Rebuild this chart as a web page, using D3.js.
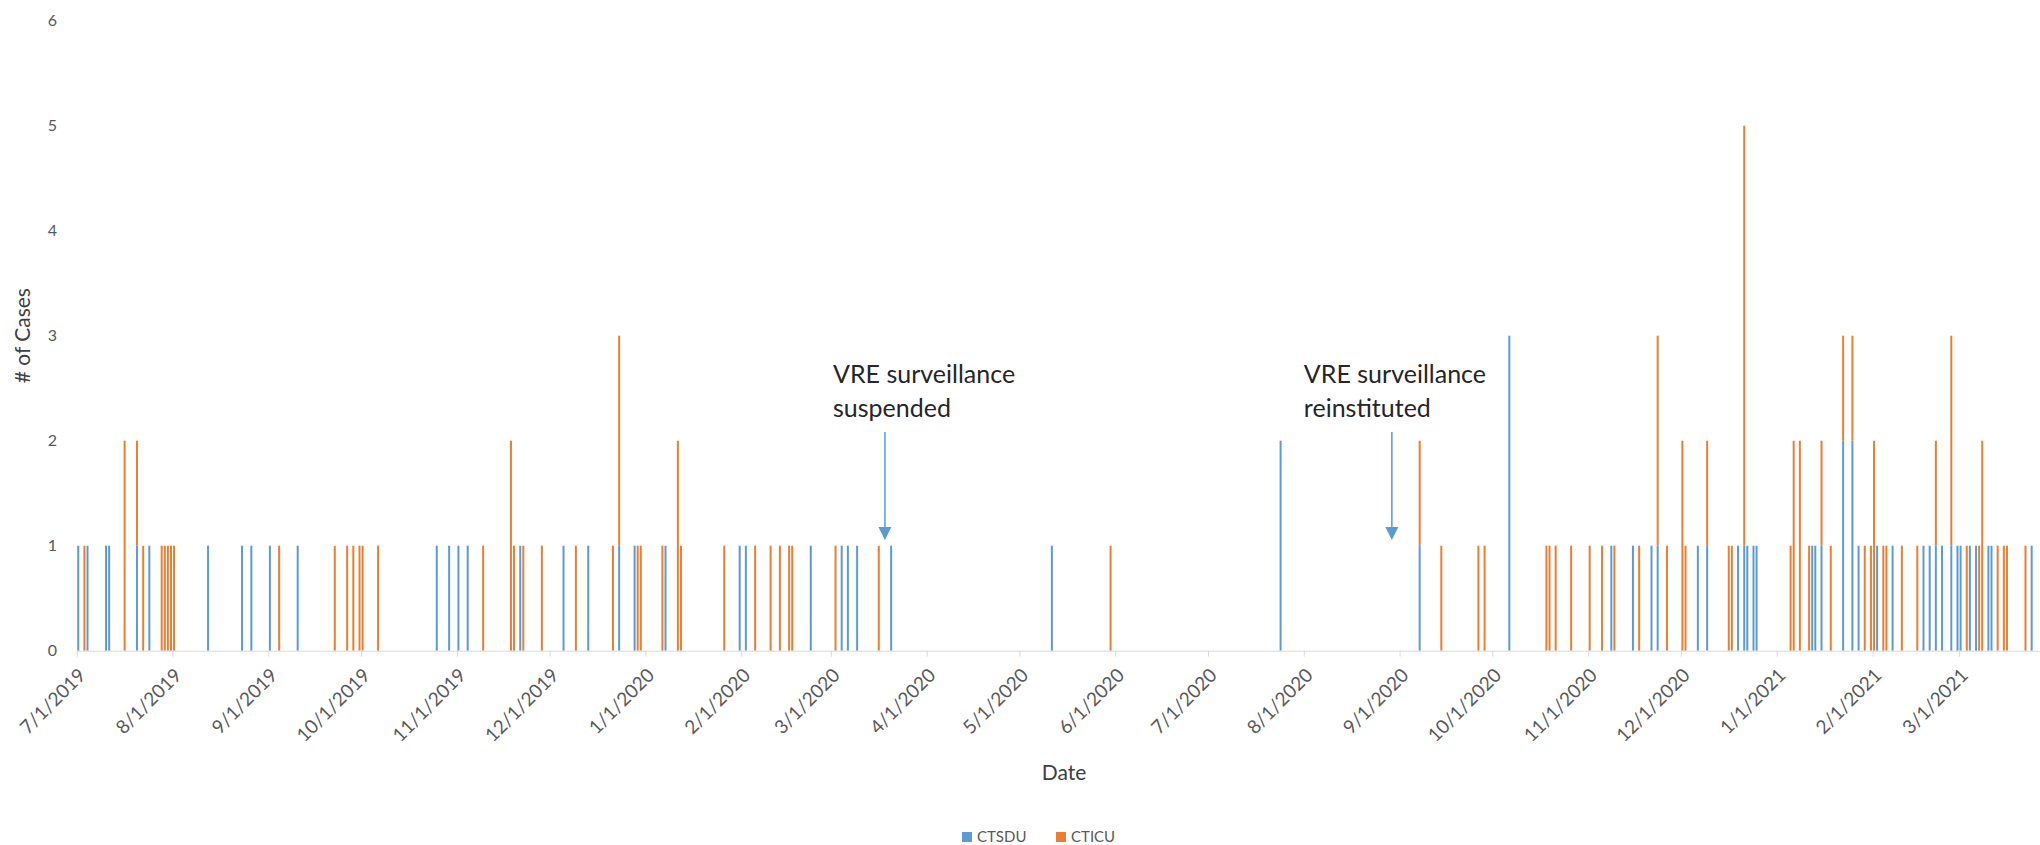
<!DOCTYPE html>
<html>
    <head>
        <meta charset="UTF-8">
        <title>VRE cases CTSDU / CTICU</title>
        <style>
            body {margin:0; background:#fff;}
            text {font-family: Lato, "Open Sans", sans-serif;}
            .tick text {fill:#595959; font-size:19px;}
            .ylab {fill:#595959; font-size:16px;}
            .title {fill:#404040; font-size:21px;}
            .note {fill:#262626; font-size:25px;}
            .legend text {fill:#595959; font-size:15px;}
        </style>
        <script src="https://cdn.jsdelivr.net/npm/d3@7"></script>
    </head>
    <body>
        <svg width="2040" height="845"></svg>
        <script>
            // case dates, one entry per day that had a case
            var dates = [
                "2019-07-01","2019-07-03","2019-07-04","2019-07-10","2019-07-11","2019-07-16","2019-07-20","2019-07-22",
                "2019-07-24","2019-07-28","2019-07-29","2019-07-30","2019-07-31","2019-08-01","2019-08-12","2019-08-23",
                "2019-08-26","2019-09-01","2019-09-04","2019-09-10","2019-09-22","2019-09-26","2019-09-28","2019-09-30",
                "2019-10-01","2019-10-06","2019-10-25","2019-10-29","2019-11-01","2019-11-04","2019-11-09","2019-11-18",
                "2019-11-19","2019-11-21","2019-11-22","2019-11-28","2019-12-05","2019-12-09","2019-12-13","2019-12-21",
                "2019-12-23","2019-12-28","2019-12-29","2019-12-30","2020-01-06","2020-01-07","2020-01-11","2020-01-12",
                "2020-01-26","2020-01-31","2020-02-02","2020-02-05","2020-02-10","2020-02-13","2020-02-16","2020-02-17",
                "2020-02-23","2020-03-02","2020-03-04","2020-03-06","2020-03-09","2020-03-16","2020-03-20","2020-05-11",
                "2020-05-30","2020-07-24","2020-09-07","2020-09-14","2020-09-26","2020-09-28","2020-10-06","2020-10-18",
                "2020-10-19","2020-10-21","2020-10-26","2020-11-01","2020-11-05","2020-11-08","2020-11-09","2020-11-15",
                "2020-11-17","2020-11-21","2020-11-23","2020-11-26","2020-12-01","2020-12-02","2020-12-06","2020-12-09",
                "2020-12-16","2020-12-17","2020-12-19","2020-12-21","2020-12-22","2020-12-24","2020-12-25","2021-01-05",
                "2021-01-06","2021-01-08","2021-01-11","2021-01-12","2021-01-13","2021-01-15","2021-01-18","2021-01-22",
                "2021-01-25","2021-01-27","2021-01-29","2021-01-31","2021-02-01","2021-02-02","2021-02-04","2021-02-05",
                "2021-02-07","2021-02-10","2021-02-15","2021-02-17","2021-02-19","2021-02-21","2021-02-23","2021-02-26",
                "2021-02-28","2021-03-01","2021-03-03","2021-03-04","2021-03-06","2021-03-07","2021-03-08","2021-03-10",
                "2021-03-11","2021-03-13","2021-03-15","2021-03-16","2021-03-22","2021-03-24"
            ];
            var ctsdu = [
                1,0,1,1,1,0,1,0, 1,0,0,0,0,0,1,1, 1,1,0,1,0,0,0,0, 0,0,1,1,1,1,0,0,
                0,1,0,0,1,0,1,0, 1,1,0,0,0,1,0,0, 0,1,1,0,0,0,0,0, 1,0,1,1,1,0,1,1,
                0,2,1,0,0,0,3,0, 0,0,0,0,0,1,0,1, 0,1,1,0,0,0,1,1, 0,0,1,1,1,1,1,0,
                0,0,0,1,1,1,0,2, 2,1,0,0,0,1,0,0, 1,0,0,1,1,1,1,1, 1,1,0,1,1,0,0,1,
                1,0,0,0,0,1
            ];
            var cticu = [
                0,1,0,0,0,2,1,1, 0,1,1,1,1,1,0,0, 0,0,1,0,1,1,1,1, 1,1,0,0,0,0,1,2,
                1,0,1,1,0,1,0,1, 2,0,1,1,1,0,2,1, 1,0,0,1,1,1,1,1, 0,1,0,0,0,1,0,0,
                1,0,1,1,1,1,0,1, 1,1,1,1,1,0,1,0, 1,0,2,1,2,1,0,1, 1,1,0,4,0,0,0,1,
                2,2,1,0,0,1,1,1, 1,0,1,1,2,0,1,1, 0,1,1,0,0,1,0,2, 0,0,1,0,0,1,2,0,
                0,1,1,1,1,0
            ];
            var seriesNames = ["CTSDU", "CTICU"];
            var seriesColors = ["#5b9bd5", "#ed7d31"];
            var yTicks = [0, 1, 2, 3, 4, 5, 6];
            var notes = [
                {date: "2020-03-18", lines: ["VRE surveillance", "suspended"]},
                {date: "2020-08-29", lines: ["VRE surveillance", "reinstituted"]}
            ];
            var noteDx = [-52, -88];

            var svg = d3.select("svg");
            var parse = d3.timeParse("%Y-%m-%d");

            var rows = dates.map(function(d, i) {
                return {date: parse(d), CTSDU: ctsdu[i], CTICU: cticu[i]};
            });

            var x = d3.scaleTime()
                .domain([parse("2019-07-01"), parse("2021-03-27")])
                .range([76.7, 2039.4]);
            var y = d3.scaleLinear().domain([0, 6]).range([650.7, 20.7]);
            var halfDay = (x(parse("2019-07-02")) - x(parse("2019-07-01"))) / 2;

            //... stacked bars, CTSDU at the bottom
            var stacked = d3.stack().keys(seriesNames)(rows);
            svg.append("g").selectAll("g")
                .data(stacked)
                .enter().append("g")
                .attr("fill", (s, i) => seriesColors[i])
                .selectAll("rect")
                .data(s => s.filter(d => d[1] > d[0]))
                .enter().append("rect")
                .attr("x", d => x(d.data.date) + halfDay - 1)
                .attr("width", 2)
                .attr("y", d => y(d[1]))
                .attr("height", d => y(d[0]) - y(d[1]));

            //... x axis
            var xAxis = svg.append("g")
                .attr("transform", "translate(0," + y(0) + ")")
                .call(d3.axisBottom(x)
                    .ticks(d3.timeMonth.every(1))
                    .tickFormat(d3.timeFormat("%-m/%-d/%Y"))
                    .tickSize(6)
                    .tickSizeOuter(0));
            xAxis.select(".domain").attr("stroke", "#d9d9d9");
            xAxis.selectAll(".tick line").attr("stroke", "#d9d9d9");
            xAxis.selectAll(".tick text")
                .attr("font-family", null).attr("font-size", null).attr("fill", null)
                .attr("text-anchor", "end")
                .attr("y", 0).attr("dy", "0.35em")
                .attr("transform", "translate(5,21) rotate(-45)");

            //... y labels, no axis line
            svg.append("g").selectAll("text")
                .data(yTicks)
                .enter().append("text")
                .attr("class", "ylab")
                .attr("x", 57)
                .attr("y", d => y(d))
                .attr("dy", "0.35em")
                .attr("text-anchor", "end")
                .text(d => d);

            svg.append("text").attr("class", "title")
                .attr("transform", "translate(30," + ((y(0) + y(6)) / 2) + ") rotate(-90)")
                .attr("text-anchor", "middle")
                .text("# of Cases");
            svg.append("text").attr("class", "title")
                .attr("x", 1064).attr("y", 780)
                .attr("text-anchor", "middle")
                .text("Date");

            //... annotations with arrows
            var n = svg.append("g").selectAll("g")
                .data(notes)
                .enter().append("g")
                .attr("transform", d => "translate(" + (x(parse(d.date)) + halfDay) + ",0)");
            n.append("text").attr("class", "note")
                .attr("x", (d, i) => noteDx[i]).attr("y", 383)
                .text(d => d.lines[0]);
            n.append("text").attr("class", "note")
                .attr("x", (d, i) => noteDx[i]).attr("y", 417)
                .text(d => d.lines[1]);
            n.append("line")
                .attr("x1", 0).attr("x2", 0)
                .attr("y1", 432).attr("y2", 529)
                .attr("stroke", "#5b9bd5").attr("stroke-width", 1.5);
            n.append("path")
                .attr("d", "M-6.5,527L6.5,527L0,540Z")
                .attr("fill", "#5b9bd5");

            //... legend
            var lg = svg.append("g").attr("class", "legend");
            var lx = [962, 1056];
            seriesNames.forEach(function(s, i) {
                lg.append("rect").attr("x", lx[i]).attr("y", 832)
                    .attr("width", 10).attr("height", 10).attr("fill", seriesColors[i]);
                lg.append("text").attr("x", lx[i] + 15).attr("y", 842).text(s);
            });
        </script>
    </body>
</html>
